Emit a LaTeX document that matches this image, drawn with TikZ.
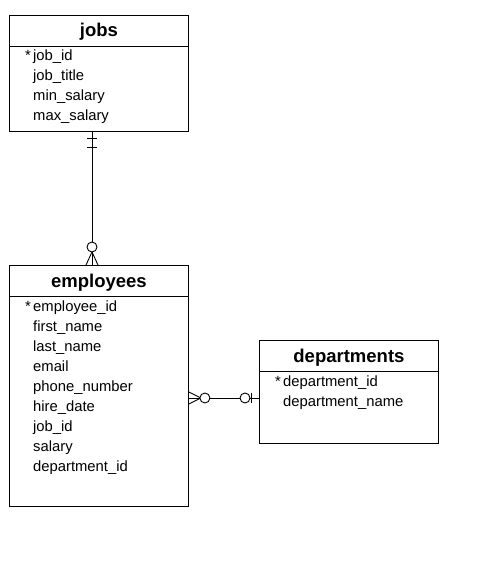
\documentclass[tikz,border=0pt]{standalone}
\usepackage{fontspec}
\setmainfont{Liberation Sans}
\usetikzlibrary{positioning, calc}

\begin{document}
\begin{tikzpicture}[
    x=1pt, y=-1pt,
    tbl/.style={rectangle, draw, line width=0.9pt, minimum width=179pt,
                inner sep=0pt, anchor=north west},
    title/.style={font=\fontsize{18.5}{20}\selectfont\bfseries, anchor=base, inner sep=0pt},
    field/.style={font=\fontsize{14.8}{16}\selectfont, anchor=base west, inner sep=0pt},
    key/.style={font=\fontsize{14.8}{16}\selectfont, anchor=base east, inner sep=0pt},
    rel/.style={line width=0.9pt},
]
    \useasboundingbox (0,0) rectangle (480,561);

    % Tables
    \node[tbl, minimum height=116pt] (jobs) at (9,15) {};
    \node[tbl, minimum height=241pt] (emp) at (9,265) {};
    \node[tbl, minimum height=103pt] (dept) at (259,340) {};

    % Headers
    \node[title] (jobsT) at ($(jobs.north)+(0,22)$) {jobs};
    \node[title] (empT) at ($(emp.north)+(0,22)$) {employees};
    \node[title] (deptT) at ($(dept.north)+(0,22)$) {departments};
    \foreach \t in {jobs, emp, dept}
        \draw[rel] ($(\t.north west)+(0,31)$) -- ($(\t.north east)+(0,31)$);

    % Fields
    \foreach \f [count=\i] in {job\_id, job\_title, min\_salary, max\_salary}
        \node[field] (jobs-\i) at ($(jobs.north west)+(24,26+20*\i)$) {\f};
    \foreach \f [count=\i] in {employee\_id, first\_name, last\_name, email,
                               phone\_number, hire\_date, job\_id, salary, department\_id}
        \node[field] (emp-\i) at ($(emp.north west)+(24,26+20*\i)$) {\f};
    \foreach \f [count=\i] in {department\_id, department\_name}
        \node[field] (dept-\i) at ($(dept.north west)+(24,26+20*\i)$) {\f};

    % Primary keys
    \node[key] (jobsK) at ($(jobs-1.base west)+(-2,0)$) {*};
    \node[key] (empK) at ($(emp-1.base west)+(-2,0)$) {*};
    \node[key] (deptK) at ($(dept-1.base west)+(-2,0)$) {*};

    % jobs -- employees
    \coordinate (jq) at ($(jobs.south west)+(83,0)$);
    \coordinate (eq) at ($(emp.north west)+(83,0)$);
    \draw[rel] (jq) -- (eq);
    \draw[rel] ($(jq)+(-5,7)$) -- ++(10,0);
    \draw[rel] ($(jq)+(-5,16)$) -- ++(10,0);
    \draw[rel] ($(eq)+(-6,0)$) -- ($(eq)+(0,-13)$) -- ($(eq)+(6,0)$);
    \draw[rel, fill=white] ($(eq)+(0,-18)$) circle[radius=5];

    % employees -- departments
    \coordinate (er) at ($(emp.north east)+(0,133)$);
    \coordinate (dl) at ($(dept.north west)+(0,58)$);
    \draw[rel] (er) -- (dl);
    \draw[rel] ($(er)+(0,-6)$) -- ($(er)+(12,0)$) -- ($(er)+(0,6)$);
    \draw[rel, fill=white] ($(er)+(16,0)$) circle[radius=5];
    \draw[rel, fill=white] ($(dl)+(-14,0)$) circle[radius=5];
    \draw[rel] ($(dl)+(-8,-5)$) -- ++(0,10);
\end{tikzpicture}
\end{document}
